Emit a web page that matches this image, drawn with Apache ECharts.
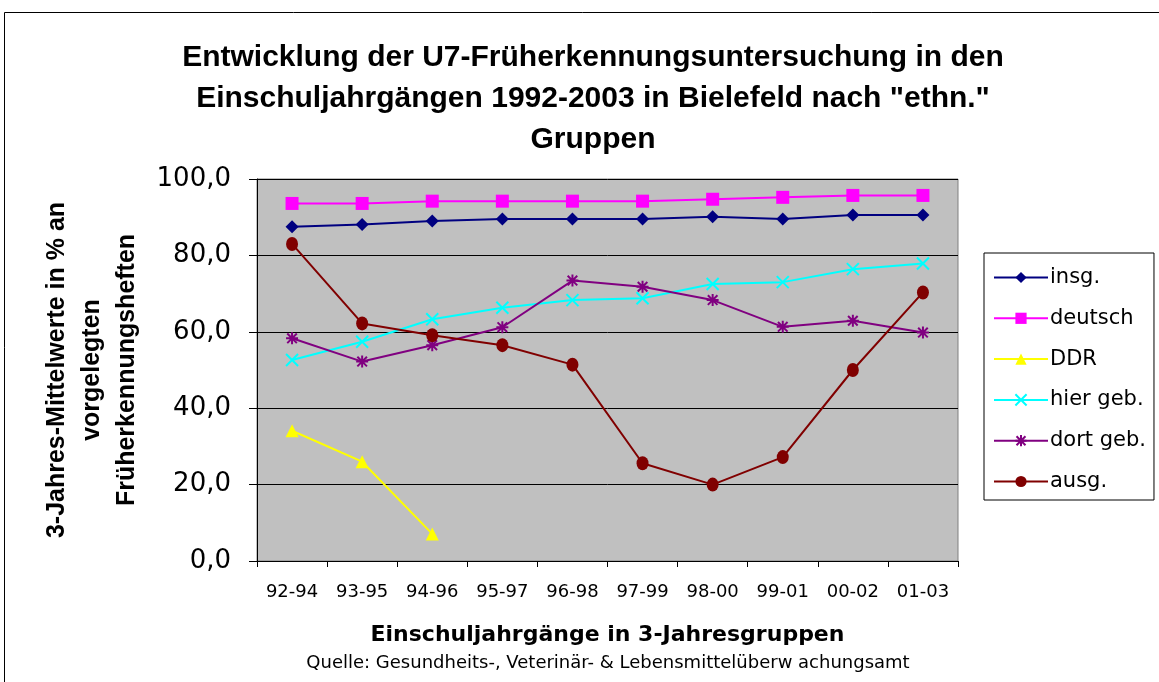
<!DOCTYPE html>
<html><head><meta charset="utf-8">
<script src="https://cdn.jsdelivr.net/npm/echarts@6/dist/echarts.min.js"></script>
<style>html,body{margin:0;padding:0;background:#fff}#c{width:1159px;height:682px}</style>
</head><body><div id="c"></div>
<script>
const categories = ['92-94','93-95','94-96','95-97','96-98','97-99','98-00','99-01','00-02','01-03'];
const insg    = [87.5, 88.1, 89.0, 89.5, 89.5, 89.5, 90.1, 89.5, 90.6, 90.6];
const deutsch = [93.6, 93.6, 94.2, 94.2, 94.2, 94.2, 94.7, 95.2, 95.7, 95.7];
const ddr     = [34.1, 26.0, 7.1, null, null, null, null, null, null, null];
const hierGeb = [52.6, 57.4, 63.3, 66.3, 68.3, 68.8, 72.5, 73.0, 76.4, 77.9];
const dortGeb = [58.3, 52.2, 56.5, 61.2, 73.4, 71.8, 68.3, 61.3, 62.9, 59.8];
const ausg    = [83.0, 62.2, 59.1, 56.5, 51.4, 25.6, 20.0, 27.2, 50.0, 70.3];
const yTicks = [0, 20, 40, 60, 80, 100];

const crossPath = 'path://M0,0L10,10M10,0L0,10';
const starPath = 'path://M5,0L5,10M0,5L10,5M1,1L9,9M9,1L1,9';
const SANS = '"DejaVu Sans", Verdana, sans-serif';
const ARIAL = 'Arial, "Liberation Sans", sans-serif';

function mk(name, data, color, symbol, size, stroke) {
  return {
    name, type: 'line', data, symbol, symbolSize: size,
    connectNulls: false,
    lineStyle: { color, width: 2 },
    itemStyle: stroke ? { color: 'rgba(0,0,0,0)', borderColor: color, borderWidth: 2 } : { color, borderWidth: 0 },
    emphasis: { disabled: true },
    animation: false
  };
}

const chart = echarts.init(document.getElementById('c'), null, { renderer: 'canvas' });
chart.setOption({
  animation: false,
  backgroundColor: '#fff',
  graphic: [{
    type: 'rect', shape: { x: 4.5, y: 12.5, width: 1200, height: 700 },
    style: { fill: 'none', stroke: '#000', lineWidth: 1 }, silent: true
  }, {
    type: 'text', x: 608, y: 654,
    style: { text: 'Quelle: Gesundheits-, Veterinär- & Lebensmittelüberw achungsamt', fill: '#000', font: '18px ' + SANS, textAlign: 'center' }
  }],
  title: {
    text: 'Entwicklung der U7-Früherkennungsuntersuchung in den\nEinschuljahrgängen 1992-2003 in Bielefeld nach "ethn."\nGruppen',
    left: 588, top: 32, textAlign: 'center',
    textStyle: { fontFamily: ARIAL, fontSize: 30, fontWeight: 'bold', color: '#000', lineHeight: 41 }
  },
  grid: {
    left: 257, right: 201, top: 179, bottom: 121,
    containLabel: false, outerBoundsMode: 'none',
    show: true, backgroundColor: '#c0c0c0', borderColor: '#808080', borderWidth: 1
  },
  legend: {
    orient: 'vertical', left: 984, top: 253,
    padding: [14, 8, 8, 9],
    borderColor: '#000', borderWidth: 1, backgroundColor: '#fff',
    itemWidth: 54, itemHeight: 14, itemGap: 19.8,
    textStyle: { fontFamily: SANS, fontSize: 21, lineHeight: 21, color: '#000', padding: [0, 0, 0, -3] },
    data: ['insg.', 'deutsch', 'DDR', 'hier geb.', 'dort geb.', 'ausg.']
  },
  xAxis: {
    type: 'category', data: categories, boundaryGap: true,
    name: 'Einschuljahrgänge in 3-Jahresgruppen', nameLocation: 'middle', nameGap: 63,
    nameTextStyle: { fontFamily: SANS, fontSize: 22, fontWeight: 'bold', color: '#000' },
    axisLine: { lineStyle: { color: '#000', width: 1 } },
    axisTick: { show: true, alignWithLabel: false, interval: 0, length: 6, lineStyle: { color: '#000' } },
    axisLabel: { fontFamily: SANS, fontSize: 18, color: '#000', margin: 22, interval: 0, hideOverlap: false },
    splitLine: { show: false }
  },
  yAxis: {
    type: 'value', min: 0, max: 100, interval: 20,
    name: '3-Jahres-Mittelwerte in % an\nvorgelegten\nFrüherkennungsheften',
    nameLocation: 'middle', nameGap: 112, nameRotate: 90, nameMoveOverlap: false,
    nameTextStyle: { fontFamily: ARIAL, fontSize: 25, fontWeight: 'bold', color: '#000', lineHeight: 35 },
    axisLine: { show: true, lineStyle: { color: '#000', width: 1 } },
    axisTick: { show: true, length: 8, lineStyle: { color: '#000' } },
    axisLabel: {
      fontFamily: SANS, fontSize: 26, color: '#000', margin: 26,
      formatter: v => yTicks.includes(v) ? v.toFixed(1).replace('.', ',') : ''
    },
    splitLine: { show: true, lineStyle: { color: '#000', width: 1 } }
  },
  series: [
    mk('insg.', insg, '#000080', 'diamond', 13, false),
    mk('deutsch', deutsch, '#ff00ff', 'rect', 13, false),
    mk('DDR', ddr, '#ffff00', 'triangle', 13, false),
    mk('hier geb.', hierGeb, '#00ffff', crossPath, 12, true),
    mk('dort geb.', dortGeb, '#800080', starPath, 12, true),
    mk('ausg.', ausg, '#800000', 'circle', [12, 14], false)
  ]
});
</script></body></html>
